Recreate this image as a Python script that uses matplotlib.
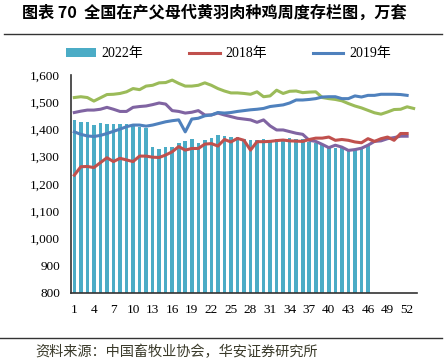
import numpy as np
import matplotlib.pyplot as plt
from matplotlib.lines import Line2D

# 周次
weeks = np.arange(1, 54)
xtick_labels = [str(w) for w in range(1, 53, 3)]

# 2022年 (柱)
y2022 = [1433, 1428, 1428, 1418, 1425, 1419, 1419, 1421, 1421, 1420, 1410, 1406,
         1336, 1327, 1335, 1336, 1350, 1357, 1366, 1350, 1360, 1370, 1378, 1375,
         1373, 1373, 1366, 1360, 1361, 1366, 1362, 1366, 1366, 1369, 1366, 1364,
         1354, 1350, 1345, 1338, 1333, 1333, 1323, 1326, 1330, 1338]
# 2018年
y2018 = [1232, 1263, 1264, 1260, 1278, 1296, 1282, 1294, 1288, 1282, 1302, 1302,
         1298, 1297, 1306, 1318, 1337, 1324, 1330, 1330, 1346, 1348, 1339, 1363,
         1354, 1367, 1360, 1324, 1355, 1355, 1356, 1359, 1361, 1358, 1357, 1356,
         1363, 1368, 1368, 1372, 1360, 1363, 1360, 1354, 1351, 1366, 1356, 1366,
         1372, 1360, 1385, 1385]
# 2019年
y2019 = [1391, 1382, 1376, 1374, 1378, 1385, 1393, 1401, 1410, 1416, 1416, 1412,
         1416, 1422, 1428, 1432, 1435, 1391, 1438, 1441, 1450, 1453, 1462, 1460,
         1462, 1466, 1469, 1472, 1474, 1477, 1484, 1487, 1490, 1497, 1508, 1508,
         1510, 1513, 1519, 1520, 1520, 1513, 1513, 1523, 1519, 1525, 1525, 1529,
         1529, 1529, 1528, 1525]
# 未标注系列 (绿)
y_green = [1517, 1520, 1517, 1504, 1516, 1528, 1529, 1532, 1538, 1550, 1546, 1559,
           1562, 1571, 1572, 1581, 1569, 1559, 1559, 1562, 1571, 1562, 1550, 1541,
           1534, 1534, 1532, 1529, 1538, 1520, 1523, 1544, 1532, 1540, 1541, 1535,
           1537, 1538, 1517, 1513, 1510, 1505, 1495, 1486, 1479, 1470, 1461, 1456,
           1464, 1473, 1474, 1483, 1477]
# 未标注系列 (紫)
y_purple = [1462, 1467, 1471, 1471, 1474, 1481, 1474, 1466, 1466, 1481, 1484, 1486,
            1491, 1497, 1493, 1469, 1466, 1460, 1463, 1469, 1453, 1453, 1460, 1453,
            1447, 1441, 1438, 1435, 1426, 1435, 1413, 1398, 1398, 1392, 1386, 1382,
            1360, 1356, 1345, 1333, 1342, 1335, 1323, 1326, 1331, 1342, 1356, 1358,
            1366, 1370, 1375, 1375]

serif = ['Liberation Serif', 'Noto Sans CJK SC']
cjk = ['Noto Sans CJK SC', 'DejaVu Sans']

fig = plt.figure(figsize=(4.44, 3.62), dpi=100)
ax = fig.add_axes([0.16, 0.191, 0.779, 0.602])

b22 = ax.bar(weeks[:len(y2022)], y2022, width=0.55, color='#4BACC6', label='2022年', zorder=1)
ax.plot(weeks[:len(y_green)], y_green, color='#9BBB59', lw=2.2, zorder=2)
ax.plot(weeks[:len(y_purple)], y_purple, color='#8064A2', lw=2.2, zorder=2)
l18, = ax.plot(weeks[:len(y2018)], y2018, color='#C0504D', lw=2.2, label='2018年', zorder=3)
l19, = ax.plot(weeks[:len(y2019)], y2019, color='#4F81BD', lw=2.2, label='2019年', zorder=3)

ax.set_xlim(0.5, 53.5)
ax.set_ylim(800, 1600)
ax.set_yticks(range(800, 1601, 100))
ax.set_yticklabels([f'{v:,}' for v in range(800, 1601, 100)], family=serif, fontsize=9.5)
ax.set_xticks(range(1, 53, 3))
ax.set_xticklabels(xtick_labels, family=serif, fontsize=9.5)
ax.tick_params(length=0, pad=8)
for s in ['top', 'right']:
    ax.spines[s].set_visible(False)
for s in ['left', 'bottom']:
    ax.spines[s].set_color('#333333')
    ax.spines[s].set_linewidth(1.2)

fig.legend([b22, l18, l19], ['2022年', '2018年', '2019年'], loc='center',
           bbox_to_anchor=(0.514, 0.851), ncol=3, frameon=False,
           prop={'family': serif, 'size': 10}, handlelength=2.2, columnspacing=3.3,
           handletextpad=0.4)

fig.text(0.05, 0.965, '图表 70  全国在产父母代黄羽肉种鸡周度存栏图，万套', family=cjk,
         fontsize=11.6, fontweight='bold', va='center', ha='left')
fig.add_artist(Line2D([0.01, 0.995], [0.905, 0.905], color='#333333', lw=1))
fig.add_artist(Line2D([0.0, 0.995], [0.066, 0.066], color='#333333', lw=1))
fig.text(0.08, 0.028, '资料来源：中国畜牧业协会，华安证券研究所', family=cjk,
         fontsize=10.2, color='#3a3a2a', va='center', ha='left')

fig.savefig('out.png', dpi=100)
